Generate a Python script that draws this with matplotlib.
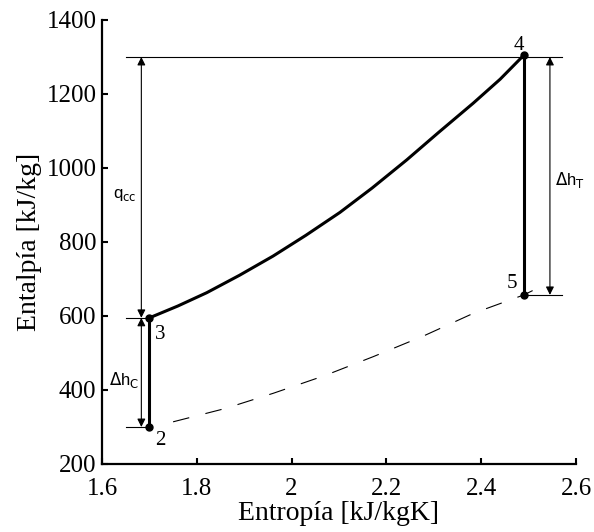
import matplotlib.pyplot as plt

# Estados del ciclo (entropia kJ/kgK, entalpia kJ/kg)
s_estados = [1.70, 1.70, 2.49, 2.49]
h_estados = [300, 595, 1305, 657]
nombres = ['2', '3', '4', '5']

# Combustion 3 -> 4 (isobara alta)
s_cc = [1.700, 1.760, 1.821, 1.890, 1.961, 2.030, 2.102, 2.170, 2.243, 2.310, 2.383, 2.440, 2.490]
h_cc = [595, 627, 663, 710, 762, 818, 880, 946, 1022, 1096, 1175, 1240, 1305]

# Isobara baja 2 -> 5 (trazos)
s_baja = [1.750, 1.860, 1.961, 2.070, 2.172, 2.280, 2.383, 2.490, 2.528]
h_baja = [314, 350, 391, 439, 490, 547, 607, 657, 681]

plt.rcParams['lines.scale_dashes'] = False
serif = 'Liberation Serif'
sans = 'Liberation Sans'

fig = plt.figure(figsize=(5.94, 5.32), dpi=100)
ax = fig.add_axes([102 / 594, 68 / 532, 474 / 594, 444 / 532])

# Lineas del ciclo
ax.plot(s_cc, h_cc, color='black', lw=2.2, solid_capstyle='round')
ax.plot([s_estados[0], s_estados[1]], [h_estados[0], h_estados[1]], color='black', lw=2.2)
ax.plot([s_estados[2], s_estados[3]], [h_estados[2], h_estados[3]], color='black', lw=2.2)
ax.plot(s_baja, h_baja, color='black', lw=0.8, dashes=(12, 12))
ax.plot(s_estados, h_estados, 'o', color='black', ms=5)

# Lineas de referencia
ax.plot([1.65, 2.57], [1300, 1300], color='black', lw=0.8)
ax.plot([1.65, 1.70], [595, 595], color='black', lw=0.8)
ax.plot([1.65, 1.70], [300, 300], color='black', lw=0.8)
ax.plot([2.49, 2.57], [657, 657], color='black', lw=0.8)

# Flechas de cotas
flecha = dict(arrowstyle='<|-|>', color='black', lw=0.8, mutation_scale=12,
              shrinkA=0, shrinkB=0)
ax.annotate('', xy=(1.683, 595), xytext=(1.683, 1300), arrowprops=flecha)
ax.annotate('', xy=(1.683, 300), xytext=(1.683, 595), arrowprops=flecha)
ax.annotate('', xy=(2.545, 657), xytext=(2.545, 1300), arrowprops=flecha)

ax.text(1.647, 927, r'q$_{\mathrm{cc}}$', family=sans, fontsize=12, ha='center', va='center')
ax.text(1.646, 427, r'$\Delta$h$_{\mathrm{C}}$', family=sans, fontsize=12, ha='center', va='center')
ax.text(2.587, 968, r'$\Delta$h$_{\mathrm{T}}$', family=sans, fontsize=12, ha='center', va='center')

# Etiquetas de los estados
pos_nombres = [(1.722, 264), (1.722, 549), (2.480, 1330), (2.465, 688)]
for n, (x, y) in zip(nombres, pos_nombres):
    ax.text(x, y, n, family=serif, fontsize=15, ha='center', va='center')

ax.set_xlim(1.6, 2.6)
ax.set_ylim(200, 1400)
ax.set_xticks([1.6, 1.8, 2.0, 2.2, 2.4, 2.6])
ax.set_xticklabels(['1.6', '1.8', '2', '2.2', '2.4', '2.6'])
ax.set_yticks([200, 400, 600, 800, 1000, 1200, 1400])
for lbl in ax.get_xticklabels() + ax.get_yticklabels():
    lbl.set_family(serif)
    lbl.set_fontsize(18)
ax.tick_params(direction='in', length=4, width=1.5)
ax.tick_params(axis='x', pad=10)
ax.tick_params(axis='y', pad=4)
ax.spines['top'].set_visible(False)
ax.spines['right'].set_visible(False)
ax.spines['left'].set_linewidth(1.6)
ax.spines['bottom'].set_linewidth(1.6)

ax.set_xlabel('Entropía [kJ/kgK]', family=serif, fontsize=20, labelpad=1)
ax.set_ylabel('Entalpía [kJ/kg]', family=serif, fontsize=20, labelpad=3)

fig.savefig('out.png', dpi=100)
